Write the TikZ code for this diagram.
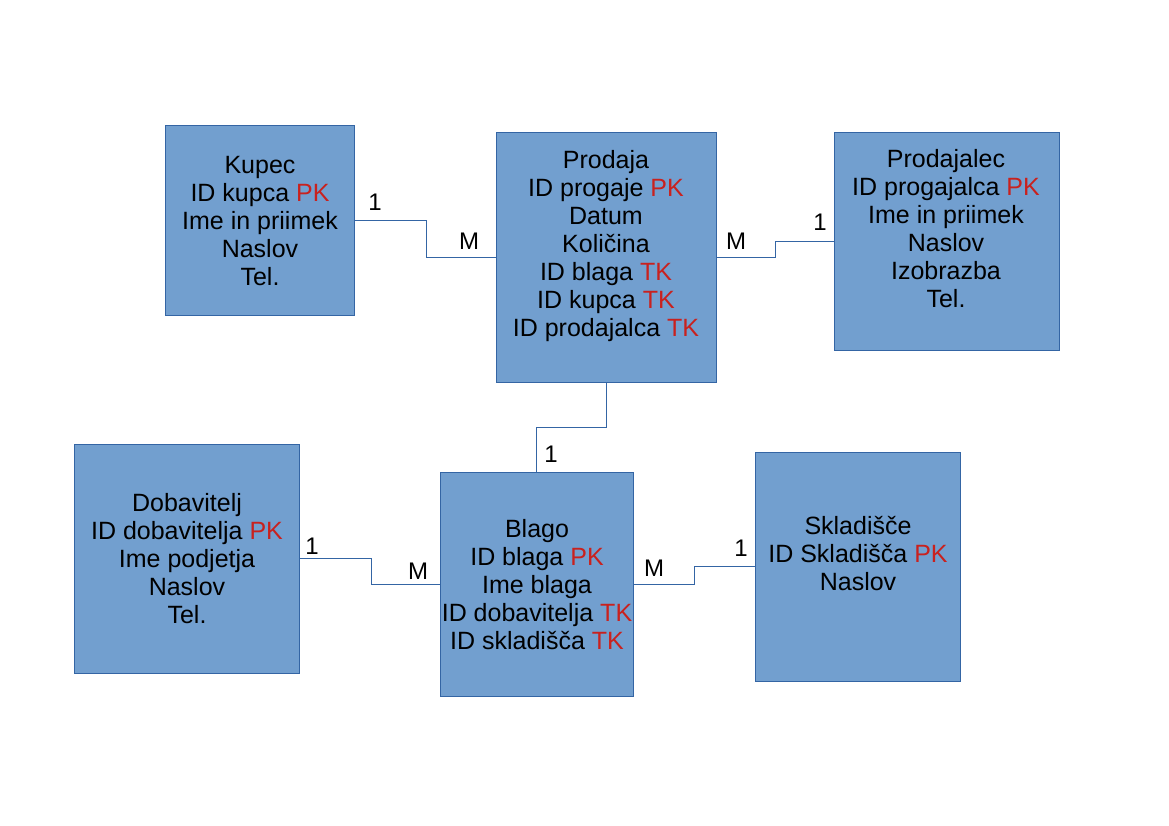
\documentclass[tikz,border=0pt]{standalone}
\usepackage{fontspec}
\setmainfont{Liberation Sans}
\definecolor{boxfill}{HTML}{729FCF}
\definecolor{boxline}{HTML}{3465A4}
\definecolor{keyred}{HTML}{C9211E}
\newcommand{\kk}[1]{\textcolor{keyred}{#1}}
\begin{document}
\begin{tikzpicture}[x=1pt,y=-1pt,
  entity/.style={draw=boxline,fill=boxfill,line width=1pt,inner sep=0pt},
  etext/.style={align=center,font=\fontsize{25}{28}\selectfont,inner sep=0pt},
  conn/.style={draw=boxline,line width=1pt},
  card/.style={font=\fontsize{24}{28}\selectfont,inner sep=0pt}]
\useasboundingbox (0,0) rectangle (1169,826);
% boxes
\node[entity,minimum width=189pt,minimum height=189pt] (kupec) at (259.5,220.5) {};
\node[entity,minimum width=220pt,minimum height=249pt] (prodaja) at (606,257.5) {};
\node[entity,minimum width=225pt,minimum height=217pt] (prodajalec) at (946.5,241.5) {};
\node[entity,minimum width=225pt,minimum height=229pt] (dobavitelj) at (186.5,558.5) {};
\node[entity,minimum width=193pt,minimum height=224pt] (blago) at (536.5,584) {};
\node[entity,minimum width=205pt,minimum height=229pt] (skladisce) at (857.5,566.5) {};
% texts
\node[etext] (t1) at (260,221) {Kupec\\ID kupca \kk{PK}\\Ime in priimek\\Naslov\\Tel.};
\node[etext] (t2) at (606,246) {Prodaja\\ID progaje \kk{PK}\\Datum\\Količina\\ID blaga \kk{TK}\\ID kupca \kk{TK}\\ID prodajalca \kk{TK}};
\node[etext] (t3) at (946,229) {Prodajalec\\ID progajalca \kk{PK}\\Ime in priimek\\Naslov\\Izobrazba\\Tel.};
\node[etext] (t4) at (187,559) {Dobavitelj\\ID dobavitelja \kk{PK}\\Ime podjetja\\Naslov\\Tel.};
\node[etext] (t5) at (537,585) {Blago\\ID blaga \kk{PK}\\Ime blaga\\ID dobavitelja \kk{TK}\\ID skladišča \kk{TK}};
\node[etext] (t6) at (858,554) {Skladišče\\ID Skladišča \kk{PK}\\Naslov};
% connectors
\draw[conn] (kupec.east) -- ++(72,0) coordinate (c1) |- (prodaja.west);
\draw[conn] (prodaja.east) -- ++(59,0) coordinate (c2) |- (prodajalec.west);
\draw[conn] (prodaja.south) -- ++(0,45) coordinate (c3) -| (blago.north);
\draw[conn] (dobavitelj.east) -- ++(72,0) coordinate (c4) |- (blago.west);
\draw[conn] (blago.east) -- ++(61,0) coordinate (c5) |- (skladisce.west);
% cardinalities
\node[card] (l1) at (375,202) {1};
\node[card] (l2) at (469,241) {M};
\node[card] (l3) at (736,241) {M};
\node[card] (l4) at (820,222) {1};
\node[card] (l5) at (551,454) {1};
\node[card] (l6) at (312,546) {1};
\node[card] (l7) at (418,571) {M};
\node[card] (l8) at (654,568) {M};
\node[card] (l9) at (741,548) {1};
\end{tikzpicture}
\end{document}
